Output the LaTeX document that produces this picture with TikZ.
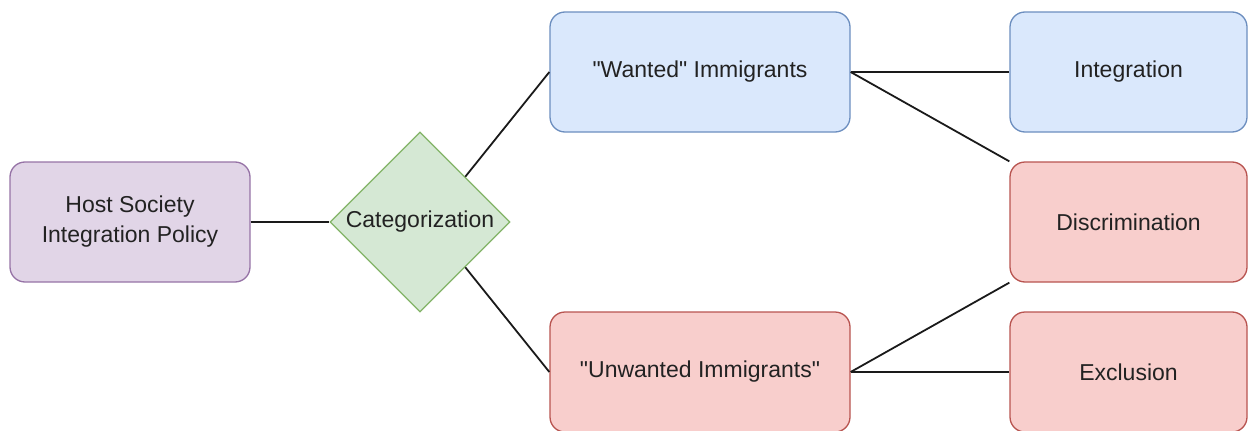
\documentclass[tikz,border=0pt]{standalone}
\usepackage{fontspec}
\setmainfont{Liberation Sans}[Ligatures=TeXOff]
\usetikzlibrary{shapes.geometric}
\definecolor{purfill}{HTML}{E1D5E7}
\definecolor{purline}{HTML}{9673A6}
\definecolor{grnfill}{HTML}{D5E8D4}
\definecolor{grnline}{HTML}{82B366}
\definecolor{blufill}{HTML}{DAE8FC}
\definecolor{bluline}{HTML}{6C8EBF}
\definecolor{redfill}{HTML}{F8CECC}
\definecolor{redline}{HTML}{B85450}
\definecolor{txt}{HTML}{222222}
\definecolor{edgecol}{HTML}{1A1A1A}
\begin{document}
\begin{tikzpicture}[x=1pt,y=-1pt,
  box/.style={rectangle, rounded corners=15pt, minimum height=120pt, line width=1.3pt,
    inner sep=0pt, align=center, font=\fontsize{23}{30}\selectfont, text=txt},
  purbox/.style={box, fill=purfill, draw=purline, minimum width=240pt},
  blubox/.style={box, fill=blufill, draw=bluline},
  redbox/.style={box, fill=redfill, draw=redline},
  midbox/.style={minimum width=300pt},
  rbox/.style={minimum width=237pt},
  decide/.style={diamond, aspect=1, minimum width=180pt, minimum height=180pt, inner sep=0pt,
    fill=grnfill, draw=grnline, line width=1.3pt, font=\fontsize{23}{30}\selectfont, text=txt},
  link/.style={draw=edgecol, line width=1.8pt}]
\useasboundingbox (0,0) rectangle (1248,431);
\clip (0,0) rectangle (1248,431);
\node[purbox] (host) at (130,222) {Host Society\\Integration Policy};
\node[decide] (cat) at (420,222) {Categorization};
\node[blubox, midbox] (want) at (700,72) {"Wanted" Immigrants};
\node[redbox, midbox] (unwant) at (700,372) {"Unwanted Immigrants"};
\node[blubox, rbox] (integ) at (1128.5,72) {Integration};
\node[redbox, rbox] (disc) at (1128.5,222) {Discrimination};
\node[redbox, rbox] (excl) at (1128.5,372) {Exclusion};
\draw[link] (host.east) -- (cat.west);
\draw[link] (cat.north east) -- (want.west);
\draw[link] (cat.south east) -- (unwant.west);
\draw[link] (want.east) -- (integ.west);
\draw[link] (want.east) -- (disc.north west);
\draw[link] (unwant.east) -- (disc.south west);
\draw[link] (unwant.east) -- (excl.west);
\end{tikzpicture}
\end{document}
